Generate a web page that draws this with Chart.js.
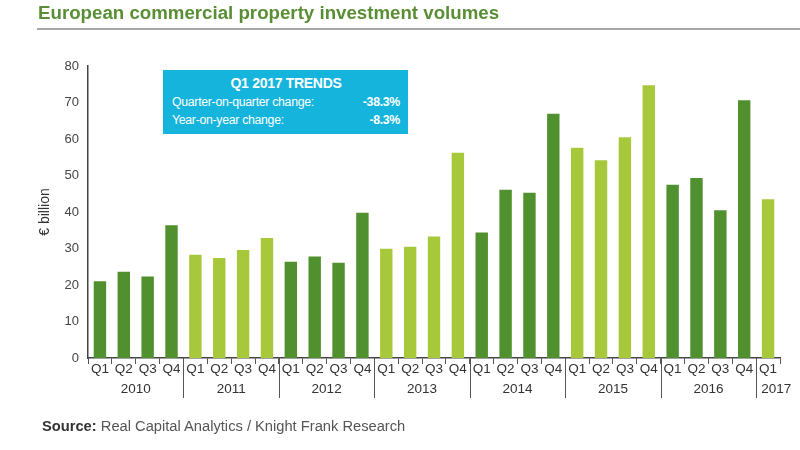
<!DOCTYPE html>
<html>
<head>
<meta charset="utf-8">
<script src="https://cdn.jsdelivr.net/npm/chart.js@4/dist/chart.umd.min.js"></script>
<style>
  body { margin: 0; background: #fff; font-family: "Liberation Sans", Arial, sans-serif; }
  #wrap { position: relative; width: 800px; height: 450px; }
  #title { position: absolute; left: 38px; top: 2px; font-size: 18.7px; font-weight: bold; color: #5a8e35; }
  #rule { position: absolute; left: 37px; right: 0; top: 28px; height: 2px; background: #a8a8a8; }
  #trends { position: absolute; left: 163px; top: 70px; width: 245px; height: 64px; background: #14b4dc;
            color: #fff; font-size: 12.3px; letter-spacing: -0.3px; box-sizing: border-box; padding: 5px 8px 0 9px; }
  #trends .hd { text-align: center; font-weight: bold; font-size: 14px; margin-bottom: 2px; }
  #trends .row { display: flex; justify-content: space-between; line-height: 18px; }
  #trends .row b { font-weight: bold; }
  #source { position: absolute; left: 42px; top: 418px; font-size: 14.7px; color: #555; }
  #source b { color: #333; }
</style>
</head>
<body>
<div id="wrap">
  <canvas id="chart"></canvas>
  <div id="title">European commercial property investment volumes</div>
  <div id="rule"></div>
  <div id="trends">
    <div class="hd">Q1 2017 TRENDS</div>
    <div class="row"><span>Quarter-on-quarter change:</span><b>-38.3%</b></div>
    <div class="row"><span>Year-on-year change:</span><b>-8.3%</b></div>
  </div>
  <div id="source"><b>Source:</b> Real Capital Analytics / Knight Frank Research</div>
</div>
<script>
const years = ['2010', '2011', '2012', '2013', '2014', '2015', '2016', '2017'];
const quarterNames = ['Q1', 'Q2', 'Q3', 'Q4'];
// € billion per quarter, 2010 Q1 .. 2017 Q1
const volumes = [
  21.0, 23.6, 22.3, 36.4,
  28.3, 27.4, 29.6, 32.9,
  26.4, 27.8, 26.1, 39.8,
  29.9, 30.5, 33.3, 56.2,
  34.4, 46.1, 45.3, 66.9,
  57.6, 54.2, 60.5, 74.7,
  47.5, 49.3, 40.5, 70.6,
  43.5
];

const darkGreen = '#50902f';
const lightGreen = '#a8c83c';

const labels = volumes.map((_, i) => quarterNames[i % 4]);
const barColors = volumes.map((_, i) => (Math.floor(i / 4) % 2 === 0 ? darkGreen : lightGreen));

// year captions + long separators under the quarter labels
const yearAxis = {
  id: 'yearAxis',
  afterDraw(chart) {
    const x = chart.scales.x;
    const ctx = chart.ctx;
    const half = (x.getPixelForValue(1) - x.getPixelForValue(0)) / 2;
    ctx.save();
    ctx.strokeStyle = '#555';
    ctx.lineWidth = 1;
    for (let i = 4; i < volumes.length; i += 4) {
      const px = Math.round(x.getPixelForValue(i) - half) + 0.5;
      ctx.beginPath();
      ctx.moveTo(px, x.top);
      ctx.lineTo(px, x.top + 40);
      ctx.stroke();
    }
    ctx.fillStyle = '#333';
    ctx.font = '13.5px "Liberation Sans", Arial, sans-serif';
    ctx.textBaseline = 'middle';
    years.forEach((y, g) => {
      const first = g * 4;
      const last = Math.min(first + 3, volumes.length - 1);
      if (first === last) {
        // lone quarter: caption starts just right of the separator
        ctx.textAlign = 'left';
        ctx.fillText(y, x.getPixelForValue(first) - half + 5, x.top + 31);
      } else {
        ctx.textAlign = 'center';
        ctx.fillText(y, (x.getPixelForValue(first) + x.getPixelForValue(last)) / 2, x.top + 31);
      }
    });
    ctx.restore();
  }
};

new Chart(document.getElementById('chart'), {
  type: 'bar',
  data: {
    labels: labels,
    datasets: [{
      data: volumes,
      backgroundColor: barColors,
      barPercentage: 0.52,
      categoryPercentage: 1
    }]
  },
  options: {
    responsive: true,
    maintainAspectRatio: false,
    animation: false,
    layout: { padding: { left: 33, top: 66, right: 20, bottom: 0 } },
    plugins: { legend: { display: false }, tooltip: { enabled: false } },
    scales: {
      x: {
        afterFit: s => { s.height = 92; },
        grid: { display: true, drawOnChartArea: false, offset: true, tickLength: 6, color: '#555' },
        border: { display: true, color: '#444', width: 1.5 },
        ticks: {
          autoSkip: false, maxRotation: 0, padding: -3,
          color: '#333', font: { family: '"Liberation Sans", Arial, sans-serif', size: 13.5 }
        }
      },
      y: {
        min: 0, max: 80,
        afterFit: s => { s.width = 55; },
        grid: { display: false, drawTicks: false },
        border: { display: true, color: '#444', width: 1.5 },
        ticks: {
          stepSize: 10, padding: 9,
          color: '#444', font: { family: '"Liberation Sans", Arial, sans-serif', size: 13 }
        },
        title: {
          display: true, text: '€ billion', color: '#333',
          font: { family: '"Liberation Sans", Arial, sans-serif', size: 14 }
        }
      }
    }
  },
  plugins: [yearAxis]
});
</script>
</body>
</html>
